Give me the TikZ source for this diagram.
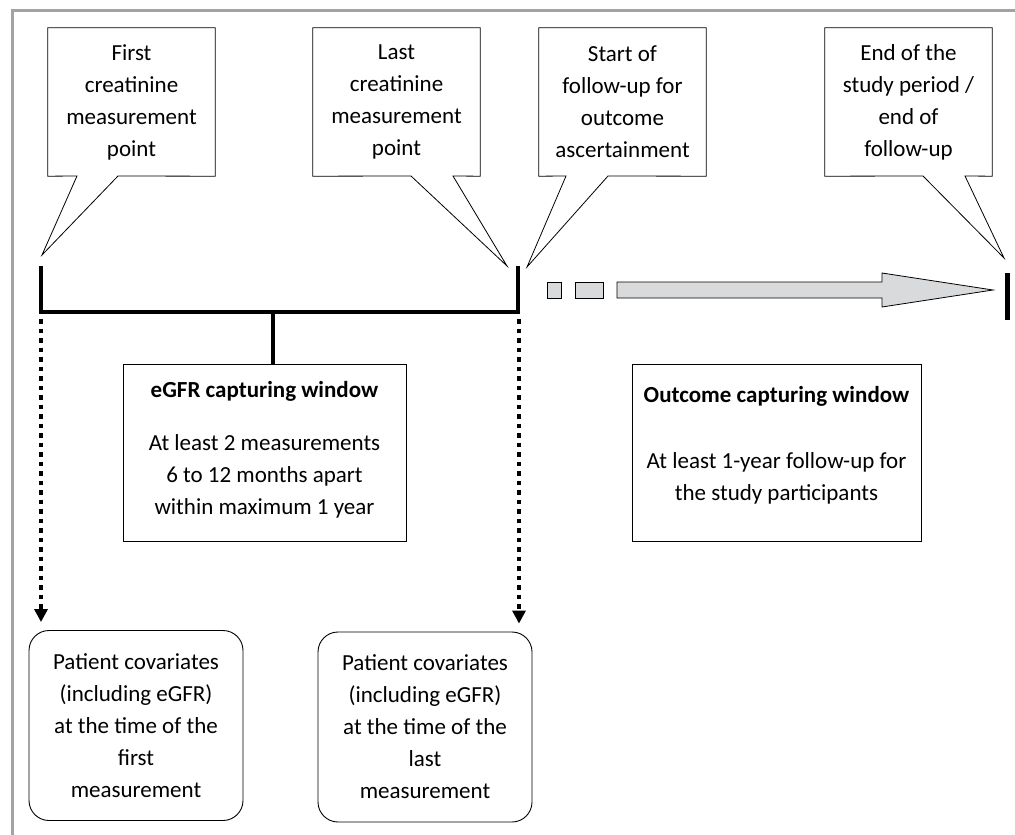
\documentclass[tikz,border=0pt]{standalone}
\usepackage{fontspec}
\setmainfont{Carlito}
\usetikzlibrary{arrows.meta}
\definecolor{framegray}{HTML}{A3A3A3}
\definecolor{arrowgray}{HTML}{D9DADB}
\tikzset{
  timeline/.style={
    x=1pt, y=-1pt,
    font={\fontsize{23}{32}\selectfont},
    every node/.style={align=center, inner sep=0pt}
  },
  callbox/.style={minimum width=167pt, minimum height=148pt},
  callout/.style={draw, line width=0.8pt, line join=miter},
  winbox/.style={draw, line width=0.9pt, minimum height=177pt},
  covbox/.style={draw, line width=0.9pt, rounded corners=20pt,
    minimum width=214pt, minimum height=190pt},
  bracket/.style={line width=3.5pt},
  dotarrow/.style={line width=3.8pt, dash pattern=on 4.5pt off 5pt,
    -{Triangle[width=13pt,length=13pt]}, shorten >=8pt},
  grayblock/.style={draw, line width=0.8pt, fill=arrowgray}
}

\begin{document}
\begin{tikzpicture}[timeline]
\useasboundingbox (0,0) rectangle (1015,835);
\draw[framegray, line width=3pt] (12,835) -- (12,10) -- (1015,10);

% callouts above the time line
\node[callbox] (first) at (131.5,102) {First\\creatinine\\measurement\\point};
\node[callbox] (last)  at (396.5,102) {Last\\creatinine\\measurement\\point};
\node[callbox] (start) at (622.5,102) {Start of\\follow-up for\\outcome\\ascertainment};
\node[callbox] (end)   at (908.5,102) {End of the\\study period /\\end of\\follow-up};

\coordinate (firsttip) at (42,255);
\coordinate (lasttip)  at (507,266);
\coordinate (starttip) at (527,267);
\coordinate (endtip)   at (1004,258);

\foreach \nm/\ba/\bb in {first/77/118, last/411/453, start/566/608, end/923/965}
  \draw[callout] (\nm.south west) -- (\nm.north west) -- (\nm.north east)
    -- (\nm.south east) -- (\bb,176) -- (\nm tip) -- (\ba,176) -- cycle;

% eGFR window bracket
\coordinate (bl) at (41,266);
\coordinate (br) at (518,266);
\coordinate (stem) at (273,312);
\draw[bracket] (bl) -- (41,312) -- (518,312) -- (br);

\node[winbox, minimum width=283pt] (egfr) at (264.5,452.5)
  {\mbox{}\\[-22pt]\textbf{eGFR capturing window}\\[21pt]At least 2 measurements\\6 to 12 months apart\\within maximum 1 year};
\draw[bracket] (stem) -- (stem |- egfr.north);

\node[winbox, minimum width=289pt] (outcome) at (776.5,452.5)
  {\textbf{Outcome capturing window}\\[34pt]At least 1-year follow-up for\\the study participants\\[-14pt]\mbox{}};

% follow-up arrow
\node[grayblock, minimum width=14pt, minimum height=16pt] (gapa) at (554,290) {};
\node[grayblock, minimum width=28pt, minimum height=16pt] (gapb) at (589,290) {};
\draw[grayblock] (617,282) -- (882,282) -- (882,273) -- (993,290)
  -- (882,307) -- (882,298) -- (617,298) -- cycle;
\coordinate (stop) at (1007,273);
\draw[line width=5pt] (stop) -- ++(0,47);

% covariates
\node[covbox] (cova) at (136,725.5)
  {Patient covariates\\(including eGFR)\\at the time of the\\first\\measurement};
\node[covbox] (covb) at (425,727)
  {Patient covariates\\(including eGFR)\\at the time of the\\last\\measurement};

\draw[dotarrow] (41,319) -- (41,0 |- cova.north);
\draw[dotarrow] (519,319) -- (519,0 |- covb.north);
\end{tikzpicture}
\end{document}
